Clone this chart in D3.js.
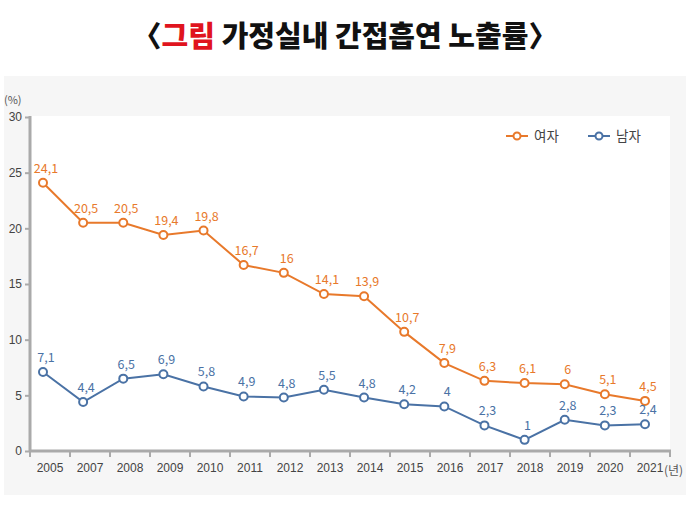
<!DOCTYPE html>
<html>
<head>
<meta charset="utf-8">
<script src="https://cdn.jsdelivr.net/npm/d3@7"></script>
<style>
  body { margin: 0; background: #fff; }
  svg { display: block; font-family: "Noto Sans CJK KR", "Noto Sans", sans-serif; }
</style>
</head>
<body>
<svg></svg>
<script>
// chart data
const years = ["2005", "2007", "2008", "2009", "2010", "2011", "2012", "2013", "2014", "2015", "2016", "2017", "2018", "2019", "2020", "2021"];
const female = [24.1, 20.5, 20.5, 19.4, 19.8, 16.7, 16, 14.1, 13.9, 10.7, 7.9, 6.3, 6.1, 6, 5.1, 4.5];
const male = [7.1, 4.4, 6.5, 6.9, 5.8, 4.9, 4.8, 5.5, 4.8, 4.2, 4, 2.3, 1, 2.8, 2.3, 2.4];
const yTicks = [0, 5, 10, 15, 20, 25, 30];
const seriesNames = ["여자", "남자"];

const w = 690;
const h = 505;
const colors = ["#e8792b", "#4a72a5"];

const svg = d3.select('svg')
    .attr('width', w)
    .attr('height', h);

//title
const title = svg.append('text')
    .attr('x', w / 2)
    .attr('y', 47)
    .attr('text-anchor', 'middle')
    .attr('font-size', 29)
    .attr('font-weight', 900)
    .attr('fill', '#111');
title.append('tspan').text('〈');
title.append('tspan').attr('fill', '#e0141e').text('그림');
title.append('tspan').text(' 가정실내 간접흡연 노출률〉');

//background panels
svg.append('rect')
    .attr('x', 4).attr('y', 76)
    .attr('width', 682).attr('height', 419)
    .attr('fill', '#f6f6f6');
svg.append('rect')
    .attr('x', 30).attr('y', 116)
    .attr('width', 640).attr('height', 335)
    .attr('fill', '#fff');

//scales
const xBand = d3.scaleBand()
    .domain(years)
    .range([30, 670]);

const xPoint = d3.scalePoint()
    .domain(years)
    .range([43, 645]);

const yScale = d3.scaleLinear()
    .domain([0, 30])
    .range([451, 117]);

//axes
const yAxis = d3.axisLeft(yScale).tickValues(yTicks).tickSize(5).tickPadding(3);
const gy = svg.append('g')
    .attr('transform', 'translate(30,0)')
    .call(yAxis);
gy.select('.domain').attr('stroke', '#aaa').attr('stroke-width', 3).attr('d', 'M0,116V451');
gy.selectAll('.tick line').attr('stroke', '#aaa').attr('stroke-width', 2);
gy.selectAll('.tick text').attr('fill', '#444').attr('font-size', 12);

const xAxis = d3.axisBottom(xBand).tickSize(0).tickPadding(12);
const gx = svg.append('g')
    .attr('transform', 'translate(0,451)')
    .call(xAxis);
gx.select('.domain').attr('stroke', '#aaa').attr('stroke-width', 3).attr('d', 'M29,0H671');
gx.selectAll('.tick text').attr('fill', '#444').attr('font-size', 12);

//tick marks between categories
const boundaries = years.map((d) => xBand(d)).concat([xBand.range()[1]]);
gx.selectAll('.sep')
    .data(boundaries)
    .enter()
    .append('line')
    .attr('class', 'sep')
    .attr('x1', (d) => d).attr('x2', (d) => d)
    .attr('y1', 0).attr('y2', 6)
    .attr('stroke', '#aaa')
    .attr('stroke-width', 2);

//unit labels
svg.append('text')
    .attr('x', 4).attr('y', 104)
    .attr('font-size', 11)
    .attr('fill', '#555')
    .text('(%)');
svg.append('text')
    .attr('x', xBand('2021') + xBand.bandwidth() / 2 + 14)
    .attr('y', 475)
    .attr('font-size', 12)
    .attr('fill', '#555')
    .text('(년)');

//lines, markers and labels
const series = [female, male];
const line = d3.line()
    .x((d, i) => xPoint(years[i]))
    .y((d) => yScale(d));

series.forEach((vals, s) => {
    svg.append('path')
        .datum(vals)
        .attr('fill', 'none')
        .attr('stroke', colors[s])
        .attr('stroke-width', 2)
        .attr('d', line);

    svg.selectAll('.dot' + s)
        .data(vals)
        .enter()
        .append('circle')
        .attr('class', 'dot' + s)
        .attr('cx', (d, i) => xPoint(years[i]))
        .attr('cy', (d) => yScale(d))
        .attr('r', 4)
        .attr('fill', '#fff')
        .attr('stroke', colors[s])
        .attr('stroke-width', 2);

    svg.selectAll('.lbl' + s)
        .data(vals)
        .enter()
        .append('text')
        .attr('class', 'lbl' + s)
        .attr('x', (d, i) => xPoint(years[i]) + 3)
        .attr('y', (d) => yScale(d) - 10)
        .attr('text-anchor', 'middle')
        .attr('font-size', 12.5)
        .attr('fill', colors[s])
        .text((d) => String(d).replace('.', ','));
});

//legend
const legend = svg.append('g').attr('transform', 'translate(506,136)');
seriesNames.forEach((name, s) => {
    const g = legend.append('g').attr('transform', 'translate(' + (s * 82) + ',0)');
    g.append('line')
        .attr('x1', 0).attr('x2', 22)
        .attr('stroke', colors[s]).attr('stroke-width', 2);
    g.append('circle')
        .attr('cx', 11).attr('r', 3.5)
        .attr('fill', '#fff')
        .attr('stroke', colors[s]).attr('stroke-width', 2);
    g.append('text')
        .attr('x', 28).attr('y', 5)
        .attr('font-size', 13.5)
        .attr('fill', '#444')
        .text(name);
});
</script>
</body>
</html>
